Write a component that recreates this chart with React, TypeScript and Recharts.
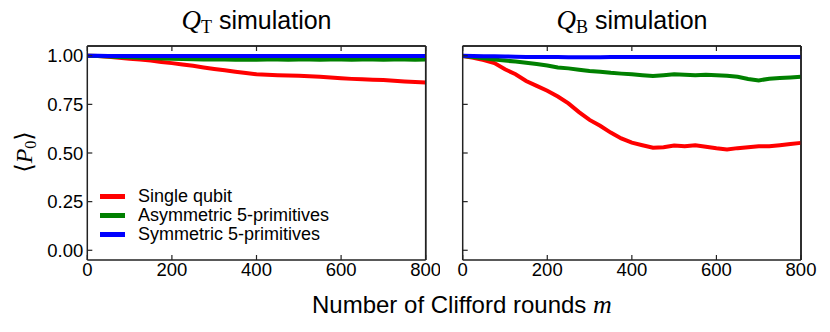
import { Legend, Line, LineChart, ReferenceLine, XAxis, YAxis } from 'recharts';

const rounds = [
  0, 25, 50, 75, 100, 125, 150, 175, 200, 225, 250, 275, 300, 325, 350, 375, 400,
  425, 450, 475, 500, 525, 550, 575, 600, 625, 650, 675, 700, 725, 750, 775, 800,
];

// Q_T panel
const qtSingle = [
  1.0, 0.998, 0.995, 0.99, 0.985, 0.98, 0.975, 0.968, 0.962, 0.955, 0.948, 0.94,
  0.932, 0.925, 0.918, 0.911, 0.905, 0.902, 0.9, 0.899, 0.897, 0.895, 0.892, 0.888,
  0.884, 0.881, 0.879, 0.877, 0.875, 0.872, 0.868, 0.865, 0.862,
];
const qtAsym = [
  1.0, 0.998, 0.996, 0.994, 0.992, 0.99, 0.988, 0.986, 0.985, 0.983, 0.982, 0.981,
  0.98, 0.98, 0.979, 0.98, 0.979, 0.98, 0.98, 0.979, 0.98, 0.98, 0.979, 0.98,
  0.98, 0.979, 0.98, 0.98, 0.979, 0.98, 0.98, 0.979, 0.98,
];
const qtSym = [
  1.0, 1.0, 0.999, 0.999, 0.999, 0.999, 0.999, 0.999, 0.999, 0.999, 0.999, 0.999,
  0.999, 0.999, 0.999, 0.999, 0.999, 0.999, 0.999, 0.999, 0.999, 0.999, 0.999, 0.999,
  0.999, 0.999, 0.999, 0.999, 0.999, 0.999, 0.999, 0.999, 0.999,
];

// Q_B panel
const qbSingle = [
  0.998, 0.99, 0.978, 0.962, 0.93, 0.905, 0.87, 0.845, 0.82, 0.79, 0.755, 0.71,
  0.67, 0.64, 0.605, 0.575, 0.553, 0.54, 0.527, 0.53, 0.538, 0.535, 0.54, 0.532,
  0.524, 0.518, 0.525, 0.53, 0.535, 0.535, 0.54, 0.546, 0.552,
];
const qbAsym = [
  0.998, 0.993, 0.987, 0.98, 0.975, 0.97, 0.964, 0.957, 0.95, 0.94, 0.935, 0.928,
  0.922, 0.918, 0.912, 0.908, 0.905, 0.9, 0.896, 0.9, 0.905, 0.902, 0.9, 0.902,
  0.9, 0.897, 0.892, 0.88, 0.873, 0.882, 0.885, 0.888, 0.892,
];
const qbSym = [
  1.0, 0.998, 0.997, 0.997, 0.996, 0.995, 0.994, 0.994, 0.993, 0.993, 0.992, 0.992,
  0.992, 0.992, 0.993, 0.993, 0.993, 0.993, 0.994, 0.994, 0.994, 0.994, 0.994, 0.994,
  0.994, 0.994, 0.994, 0.994, 0.994, 0.994, 0.993, 0.993, 0.993,
];

const xTicks = [0, 200, 400, 600, 800];
const yTicks = [0, 0.25, 0.5, 0.75, 1.0];

const seriesNames = ['Single qubit', 'Asymmetric 5-primitives', 'Symmetric 5-primitives'];
const seriesColors = ['#ff0000', '#008000', '#0000ff'];

const buildRows = (a: number[], b: number[], c: number[]) =>
  rounds.map((m, i) => ({ m, single: a[i], asym: b[i], sym: c[i] }));

const qtData = buildRows(qtSingle, qtAsym, qtSym);
const qbData = buildRows(qbSingle, qbAsym, qbSym);

const sans = "'Liberation Sans', Arial, sans-serif";
const serif = "'Liberation Serif', 'DejaVu Serif', serif";
const axisColor = '#222';
const tickFont = { fontSize: 18.5, fill: '#000', fontFamily: sans };

const LegendBox = () => (
  <div style={{ fontFamily: sans, fontSize: 18, lineHeight: '19px', color: '#000' }}>
    {seriesNames.map((name, i) => (
      <div key={name} style={{ display: 'flex', alignItems: 'center', whiteSpace: 'nowrap' }}>
        <span
          style={{
            display: 'inline-block',
            width: 25,
            height: 5,
            background: seriesColors[i],
            marginRight: 13,
          }}
        />
        {name}
      </div>
    ))}
  </div>
);

type PanelProps = {
  data: typeof qtData;
  width: number;
  leftAxis: number;
  rightMargin: number;
  showYLabels: boolean;
  legend?: boolean;
};

function Panel({ data, width, leftAxis, rightMargin, showYLabels, legend }: PanelProps) {
  return (
    <LineChart
      width={width}
      height={332}
      data={data}
      margin={{ top: 45, right: rightMargin, bottom: 42, left: 0 }}
    >
      <XAxis
        dataKey='m'
        type='number'
        domain={[0, 800]}
        ticks={xTicks}
        interval={0}
        height={30}
        tickSize={-5}
        tickMargin={8}
        tick={tickFont}
        tickLine={{ stroke: axisColor, strokeWidth: 1.2 }}
        axisLine={{ stroke: axisColor, strokeWidth: 1.5 }}
      />
      <XAxis
        xAxisId='top'
        orientation='top'
        dataKey='m'
        type='number'
        domain={[0, 800]}
        ticks={xTicks}
        interval={0}
        height={1}
        tickSize={-5}
        tickFormatter={() => ''}
        tickLine={{ stroke: axisColor, strokeWidth: 1.2 }}
        axisLine={{ stroke: axisColor, strokeWidth: 1.5 }}
      />
      <YAxis
        type='number'
        domain={[-0.05, 1.05]}
        ticks={yTicks}
        interval={0}
        width={leftAxis}
        tickSize={-5}
        tickMargin={9}
        tick={tickFont}
        tickFormatter={(v: number) => (showYLabels ? v.toFixed(2) : '')}
        tickLine={{ stroke: axisColor, strokeWidth: 1.2 }}
        axisLine={{ stroke: axisColor, strokeWidth: 1.5 }}
      />
      <YAxis
        yAxisId='right'
        orientation='right'
        type='number'
        domain={[-0.05, 1.05]}
        ticks={yTicks}
        interval={0}
        width={1}
        tickSize={-5}
        tickFormatter={() => ''}
        tickLine={{ stroke: axisColor, strokeWidth: 1.2 }}
        axisLine={{ stroke: axisColor, strokeWidth: 1.5 }}
      />
      {/* top and right sides of the frame */}
      <ReferenceLine y={1.05} stroke={axisColor} strokeWidth={1.5} ifOverflow='visible' />
      <ReferenceLine x={800} stroke={axisColor} strokeWidth={1.5} ifOverflow='visible' />
      {legend && (
        <Legend
          layout='vertical'
          align='center'
          verticalAlign='middle'
          content={() => <LegendBox />}
          wrapperStyle={{ left: 100, top: 187, width: 'auto' }}
        />
      )}
      <Line dataKey='single' stroke={seriesColors[0]} strokeWidth={4} dot={false} isAnimationActive={false} />
      <Line dataKey='asym' stroke={seriesColors[1]} strokeWidth={4} dot={false} isAnimationActive={false} />
      <Line dataKey='sym' stroke={seriesColors[2]} strokeWidth={4} dot={false} isAnimationActive={false} />
    </LineChart>
  );
}

const Title = ({ sub, center }: { sub: string; center: number }) => (
  <div
    style={{
      position: 'absolute',
      top: 5,
      left: center - 150,
      width: 300,
      textAlign: 'center',
      fontFamily: sans,
      fontSize: 25,
      whiteSpace: 'nowrap',
    }}
  >
    <span style={{ fontFamily: serif, fontStyle: 'italic', fontSize: 27 }}>Q</span>
    <sub style={{ fontFamily: serif, fontSize: 18, verticalAlign: '-4px' }}>{sub}</sub>
    <span> simulation</span>
  </div>
);

export default function App() {
  return (
    <div
      style={{
        position: 'absolute',
        left: 0,
        top: 0,
        width: 830,
        height: 332,
        background: '#fff',
        fontFamily: sans,
      }}
    >
      <div style={{ position: 'absolute', left: 0, top: 0 }}>
        <Panel data={qtData} width={440} leftAxis={87.3} rightMargin={13.3} showYLabels legend />
      </div>
      <div style={{ position: 'absolute', left: 440, top: 0 }}>
        <Panel data={qbData} width={390} leftAxis={22.7} rightMargin={28} showYLabels={false} />
      </div>
      <Title sub='T' center={256.5} />
      <Title sub='B' center={632} />
      <div
        style={{
          position: 'absolute',
          left: 312,
          top: 290,
          fontSize: 24,
          whiteSpace: 'nowrap',
        }}
      >
        Number of Clifford rounds <span style={{ fontFamily: serif, fontStyle: 'italic', fontSize: 26 }}>m</span>
      </div>
      <div
        style={{
          position: 'absolute',
          left: 25,
          top: 152,
          transform: 'translate(-50%, -50%) rotate(-90deg)',
          fontFamily: serif,
          fontSize: 24,
          whiteSpace: 'nowrap',
        }}
      >
        ⟨<i>P</i>
        <sub style={{ fontSize: 16, verticalAlign: '-4px' }}>0</sub>⟩
      </div>
    </div>
  );
}
